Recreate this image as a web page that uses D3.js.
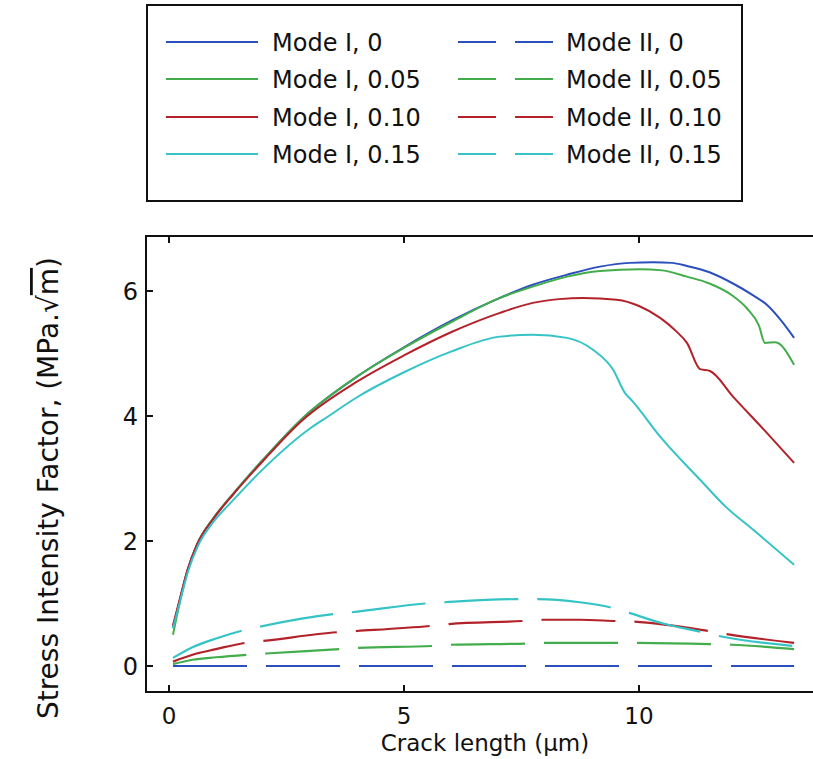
<!DOCTYPE html>
<html>
<head>
<meta charset="utf-8">
<script src="https://cdn.jsdelivr.net/npm/d3@7"></script>
<style>
  body { margin: 0; background: #fff; }
  text { font-family: "DejaVu Sans", sans-serif; fill: #111; }
</style>
</head>
<body>
<svg width="813" height="759"></svg>
<script>
// crack length (um) and stress intensity factor values
const modeI_0 = [[0.085,0.62],[0.23,1.06],[0.4,1.55],[0.6,1.95],[0.94,2.36],[1.36,2.75],[2.0,3.3],[2.85,3.97],[4.0,4.63],[5.0,5.1],[6.0,5.52],[7.04,5.89],[7.74,6.1],[8.47,6.26],[9.17,6.39],[9.8,6.45],[10.3,6.46],[10.7,6.45],[11.02,6.4],[11.5,6.3],[12.0,6.12],[12.43,5.93],[12.72,5.78],[13.0,5.55],[13.3,5.25]];
const modeI_05 = [[0.085,0.5],[0.23,1.02],[0.4,1.53],[0.6,1.95],[0.94,2.36],[1.36,2.75],[2.0,3.3],[2.85,3.97],[4.0,4.63],[5.0,5.09],[6.0,5.5],[7.04,5.89],[7.74,6.07],[8.47,6.23],[9.17,6.32],[10.02,6.35],[10.5,6.33],[11.02,6.23],[11.5,6.12],[12.0,5.92],[12.3,5.72],[12.55,5.45],[12.68,5.17],[12.9,5.18],[13.3,4.82]];
const modeI_10 = [[0.085,0.65],[0.23,1.07],[0.4,1.55],[0.6,1.95],[0.94,2.35],[1.36,2.74],[2.0,3.28],[2.85,3.94],[4.0,4.55],[5.0,4.97],[6.0,5.34],[7.04,5.65],[7.74,5.81],[8.3,5.87],[8.81,5.89],[9.53,5.86],[10.0,5.76],[10.45,5.57],[10.8,5.35],[11.02,5.17],[11.3,4.75],[11.51,4.72],[12.0,4.31],[12.72,3.73],[13.3,3.25]];
const modeI_15 = [[0.085,0.6],[0.23,1.02],[0.4,1.5],[0.62,1.93],[0.94,2.3],[1.36,2.65],[2.0,3.15],[3.0,3.8],[3.36,3.98],[4.0,4.3],[5.0,4.7],[6.0,5.03],[7.04,5.27],[7.74,5.3],[8.47,5.25],[9.02,5.06],[9.45,4.74],[9.7,4.37],[9.87,4.23],[10.45,3.67],[11.3,2.98],[11.87,2.53],[12.43,2.18],[13.3,1.62]];

const modeII_0 = [[0.085,0],[13.3,0]];
const modeII_05 = [[0.085,0.03],[0.5,0.1],[1.0,0.14],[1.66,0.18],[2.06,0.2],[3.62,0.27],[4.04,0.29],[5.6,0.32],[6.0,0.34],[7.6,0.36],[8.0,0.37],[8.74,0.37],[9.6,0.37],[11.5,0.35],[11.98,0.34],[13.3,0.27]];
const modeII_10 = [[0.085,0.07],[0.5,0.18],[1.0,0.27],[1.62,0.37],[2.0,0.4],[3.57,0.54],[4.0,0.56],[5.55,0.64],[5.96,0.67],[7.53,0.72],[7.94,0.74],[8.74,0.74],[9.5,0.72],[9.9,0.71],[11.47,0.56],[11.87,0.51],[13.3,0.37]];
const modeII_15 = [[0.085,0.13],[0.5,0.3],[1.0,0.44],[1.53,0.56],[1.94,0.63],[3.49,0.83],[3.89,0.86],[5.45,1.0],[5.87,1.02],[7.43,1.07],[7.85,1.07],[8.74,1.02],[9.38,0.94],[9.79,0.85],[10.51,0.68],[11.3,0.55],[11.7,0.48],[13.3,0.32]];

const xTicks = [0, 5, 10];
const yTicks = [0, 2, 4, 6];
const colors = ["#2c4fbf", "#43ad4b", "#b3222a", "#35c3c6"];
const labelsI = ["Mode I, 0", "Mode I, 0.05", "Mode I, 0.10", "Mode I, 0.15"];
const labelsII = ["Mode II, 0", "Mode II, 0.05", "Mode II, 0.10", "Mode II, 0.15"];

const svg = d3.select("svg");

const x = d3.scaleLinear().domain([0, 10]).range([169, 639]);
const y = d3.scaleLinear().domain([0, 6]).range([666, 291]);

const frame = { left: 146, top: 236, right: 840, bottom: 692 };

const line = d3.line()
  .x(d => x(d[0]))
  .y(d => y(d[1]))
  .curve(d3.curveMonotoneX);

// frame
svg.append("rect")
  .attr("x", frame.left).attr("y", frame.top)
  .attr("width", frame.right - frame.left).attr("height", frame.bottom - frame.top)
  .attr("fill", "none").attr("stroke", "#111").attr("stroke-width", 2);

// ticks (inside)
xTicks.forEach(t => {
  svg.append("line").attr("x1", x(t)).attr("x2", x(t))
    .attr("y1", frame.bottom).attr("y2", frame.bottom - 7)
    .attr("stroke", "#111").attr("stroke-width", 2);
  svg.append("line").attr("x1", x(t)).attr("x2", x(t))
    .attr("y1", frame.top).attr("y2", frame.top + 7)
    .attr("stroke", "#111").attr("stroke-width", 2);
  svg.append("text").attr("x", x(t)).attr("y", 724)
    .attr("text-anchor", "middle").attr("font-size", 23).text(t);
});
yTicks.forEach(t => {
  svg.append("line").attr("x1", frame.left).attr("x2", frame.left + 7)
    .attr("y1", y(t)).attr("y2", y(t))
    .attr("stroke", "#111").attr("stroke-width", 2);
  svg.append("text").attr("x", 138).attr("y", y(t) + 9)
    .attr("text-anchor", "end").attr("font-size", 24).text(t);
});

// axis titles
svg.append("text").attr("x", 485).attr("y", 751)
  .attr("text-anchor", "middle").attr("font-size", 23)
  .text("Crack length (\u03bcm)");

const yl = svg.append("text")
  .attr("transform", "translate(58,488) rotate(-90)")
  .attr("text-anchor", "middle").attr("font-size", 28);
yl.append("tspan").text("Stress Intensity Factor, (MPa.\u221a");
yl.append("tspan").style("text-decoration", "overline").text("m");
yl.append("tspan").text(")");

// curves
const modeI = [modeI_0, modeI_05, modeI_10, modeI_15];
const modeII = [modeII_0, modeII_05, modeII_10, modeII_15];

modeI.forEach((s, i) => {
  svg.append("path").datum(s).attr("d", line)
    .attr("fill", "none").attr("stroke", colors[i]).attr("stroke-width", 2);
});
modeII.forEach((s, i) => {
  svg.append("path").datum(s).attr("d", line)
    .attr("fill", "none").attr("stroke", colors[i]).attr("stroke-width", 2.2)
    .attr("stroke-dasharray", "74,19");
});

// legend
svg.append("rect").attr("x", 147).attr("y", 5).attr("width", 595).attr("height", 196)
  .attr("fill", "#fff").attr("stroke", "#111").attr("stroke-width", 2);

const rowY = [42, 79, 117, 154];
labelsI.forEach((lab, i) => {
  svg.append("line").attr("x1", 166).attr("x2", 258).attr("y1", rowY[i]).attr("y2", rowY[i])
    .attr("stroke", colors[i]).attr("stroke-width", 2);
  svg.append("text").attr("x", 272).attr("y", rowY[i] + 9).attr("font-size", 24).text(lab);
});
labelsII.forEach((lab, i) => {
  svg.append("line").attr("x1", 458).attr("x2", 553).attr("y1", rowY[i]).attr("y2", rowY[i])
    .attr("stroke", colors[i]).attr("stroke-width", 2)
    .attr("stroke-dasharray", "38,19");
  svg.append("text").attr("x", 566).attr("y", rowY[i] + 9).attr("font-size", 24).text(lab);
});
</script>
</body>
</html>
